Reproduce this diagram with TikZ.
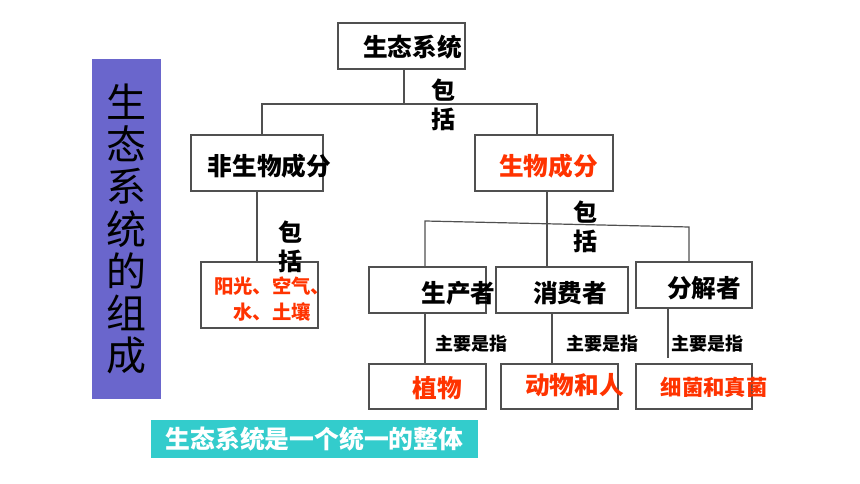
\documentclass[tikz,border=0pt]{standalone}
\usepackage{fontspec}
\newfontfamily\cjk{Noto Sans CJK SC}
\usepackage{tikz}
\definecolor{barblue}{RGB}{106,102,204}
\definecolor{barcyan}{RGB}{51,204,204}
\definecolor{txtred}{RGB}{255,51,0}
\definecolor{edge}{RGB}{80,80,80}
\tikzstyle{box}=[rectangle,draw=edge,line width=0.9pt,inner sep=0mm]
\tikzstyle{lbl}=[inner sep=0mm,font=\cjk\bfseries\fontsize{18.5pt}{22pt}\selectfont]
\tikzstyle{redlbl}=[lbl,text=txtred]
\tikzstyle{incl}=[lbl,align=center,font=\cjk\bfseries\fontsize{18pt}{22pt}\selectfont]
\tikzstyle{note}=[inner sep=0mm,font=\cjk\bfseries\fontsize{13.5pt}{16pt}\selectfont]
\tikzstyle{link}=[draw=edge,line width=0.9pt]
\tikzset{every picture/.style={
    x=0.75pt,y=-0.75pt
  }
}

\begin{document}
\begin{tikzpicture}
      \useasboundingbox (0,0) rectangle (860,484);
      \node[rectangle,fill=barblue,inner sep=0mm,minimum width=51.75pt,minimum height=255pt,align=center,font=\cjk\fontsize{30pt}{31.7pt}\selectfont] at (126.5,229) (title) {生\\态\\系\\统\\的\\组\\成};
      \node[box,minimum width=95.25pt,minimum height=34.5pt] at (401.5,46) (sys) {};
      \node[box,minimum width=99pt,minimum height=42pt] at (257,163) (abio) {};
      \node[box,minimum width=103.5pt,minimum height=42pt] at (544,163) (bio) {};
      \node[box,minimum width=87.75pt,minimum height=49.5pt] at (259.5,295) (env) {};
      \node[box,minimum width=87.75pt,minimum height=34.5pt] at (427.5,290) (prod) {};
      \node[box,minimum width=99pt,minimum height=34.5pt] at (562,290) (cons) {};
      \node[box,minimum width=87pt,minimum height=34.5pt] at (694,285) (dec) {};
      \node[box,minimum width=87.75pt,minimum height=33.75pt] at (427.5,386.5) (plant) {};
      \node[box,minimum width=87.75pt,minimum height=33.75pt] at (559.5,386.5) (animal) {};
      \node[box,minimum width=87pt,minimum height=33.75pt] at (694,386.5) (micro) {};
      \node[lbl] at (412.5,47) (sys-t) {生态系统};
      \node[lbl] at (269.5,166) (abio-t) {非生物成分};
      \node[redlbl] at (548.5,166) (bio-t) {生物成分};
      \node[redlbl,align=center,font=\cjk\bfseries\fontsize{14.5pt}{19.5pt}\selectfont] at (272,299) (env-t) {阳光、空气、\\水、土壤};
      \node[lbl] at (458.5,293) (prod-t) {生产者};
      \node[lbl] at (570,293) (cons-t) {消费者};
      \node[lbl] at (704,288) (dec-t) {分解者};
      \node[redlbl] at (437.5,388) (plant-t) {植物};
      \node[redlbl] at (574.5,385) (animal-t) {动物和人};
      \node[redlbl,font=\cjk\bfseries\fontsize{16pt}{19pt}\selectfont] at (714,387) (micro-t) {细菌和真菌};
      \node[incl] at (443,105) (incl1) {包\\括};
      \node[incl] at (290,247) (incl2) {包\\括};
      \node[incl] at (585,227) (incl3) {包\\括};
      \node[note] at (471,344) (note1) {主要是指};
      \node[note] at (602.5,344) (note2) {主要是指};
      \node[note] at (707,344) (note3) {主要是指};
      \node[rectangle,fill=barcyan,text=white,inner sep=0mm,minimum width=245.25pt,minimum height=28.5pt,font=\cjk\bfseries\fontsize{18.6pt}{22pt}\selectfont] at (314.5,439) (whole) {生态系统是一个统一的整体};
      \coordinate (jo) at (404,104);
      \coordinate (ja) at (262,104);
      \coordinate (jb) at (537,104);
      \coordinate (jc) at (425,221);
      \coordinate (jd) at (689,227);
      \coordinate (jm) at (547,224);
      \coordinate (je) at (552,364);
      \coordinate (jf) at (668,358);
      \draw[link] (sys.south -| jo) -- (jo);
      \draw[link] (ja |- abio.north) -- (ja) -- (jb) -- (jb |- bio.north);
      \draw[link] (abio.south) -- (abio.south |- env.north);
      \draw[link] (jm |- bio.south) -- (jm |- cons.north);
      \draw[link] (jc |- prod.north) -- (jc) -- (jd) -- (jd |- dec.north);
      \draw[link] (jc |- prod.south) -- (jc |- plant.north);
      \draw[link] (je |- cons.south) -- (je);
      \draw[link] (jf |- dec.south) -- (jf);
    \end{tikzpicture}
\end{document}
